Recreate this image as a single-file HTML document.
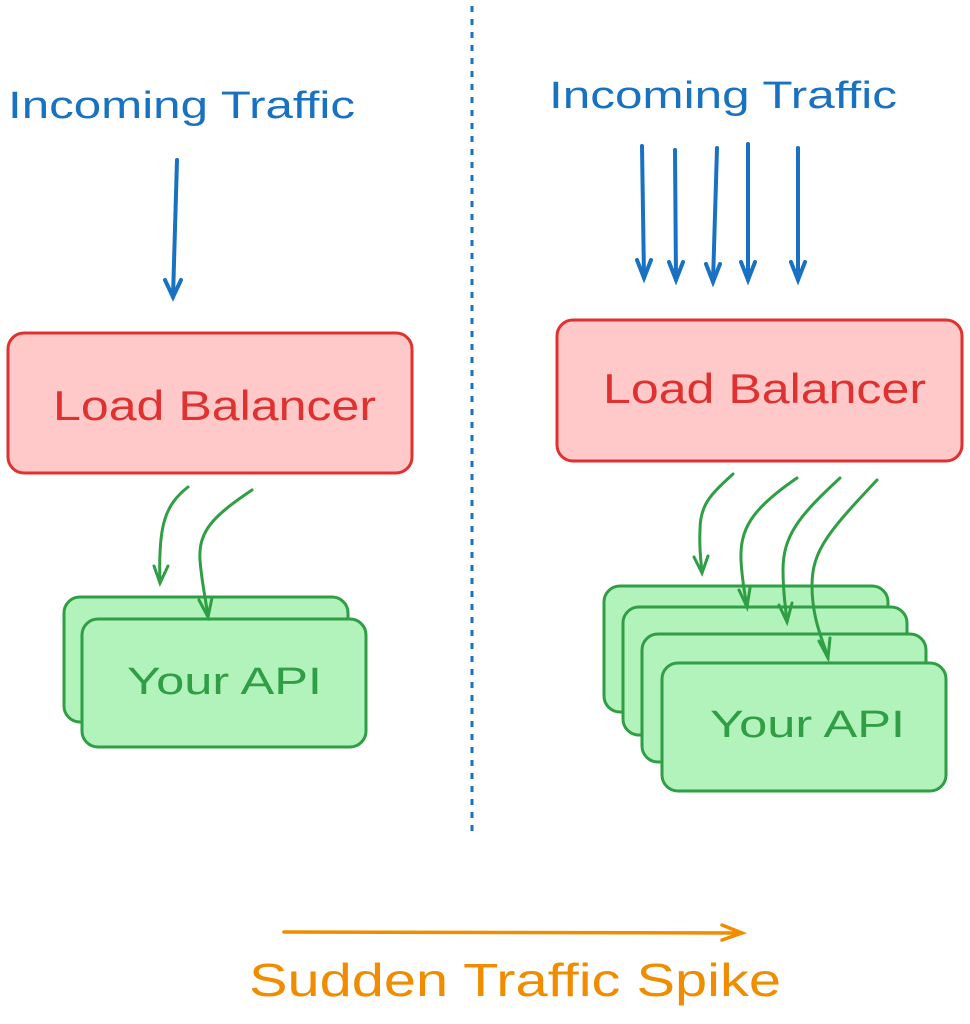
<!DOCTYPE html>
<html><head><meta charset="utf-8"><style>html,body{margin:0;padding:0;background:#fff;}svg{display:block}</style></head>
<body>
<svg width="970" height="1024" viewBox="0 0 970 1024" xmlns="http://www.w3.org/2000/svg" font-family="'Comic Sans MS','Liberation Sans',sans-serif">
<defs>
<marker id="ab" markerWidth="10" markerHeight="10" refX="5" refY="9" orient="auto" markerUnits="userSpaceOnUse"></marker>
</defs>
<!-- divider -->
<line x1="472" y1="6" x2="472" y2="835" stroke="#1971c2" stroke-width="3" stroke-dasharray="6,7"/>

<!-- LEFT -->
<text x="8" y="118" font-size="38" fill="#1971c2" textLength="347" lengthAdjust="spacingAndGlyphs">Incoming Traffic</text>
<g stroke="#1971c2" stroke-width="4" fill="none" stroke-linecap="round">
<path d="M177 160 L173 297"/><path d="M165 280 L173 297 L181 280"/>
</g>
<rect x="8" y="333" width="404" height="140" rx="16" fill="#ffc9c9" stroke="#e03131" stroke-width="3"/>
<text x="53" y="420" font-size="42" fill="#e03131" textLength="323" lengthAdjust="spacingAndGlyphs">Load Balancer</text>

<rect x="64" y="597" width="284" height="125" rx="16" fill="#b2f2bb" stroke="#2f9e44" stroke-width="3"/>
<rect x="82" y="619" width="284" height="128" rx="16" fill="#b2f2bb" stroke="#2f9e44" stroke-width="3"/>
<text x="127" y="694" font-size="38" fill="#2f9e44" textLength="195" lengthAdjust="spacingAndGlyphs">Your API</text>
<g stroke="#2f9e44" stroke-width="3" fill="none" stroke-linecap="round">
<path d="M188 487 C165 505 158 525 160 583"/><path d="M154 566 L160 583 L168 566"/>
<path d="M252 490 C215 515 198 530 200 560 C202 585 206 600 208 617"/><path d="M199 600 L208 617 L212 598"/>
</g>

<!-- RIGHT -->
<text x="549" y="108" font-size="38" fill="#1971c2" textLength="348" lengthAdjust="spacingAndGlyphs">Incoming Traffic</text>
<g stroke="#1971c2" stroke-width="4" fill="none" stroke-linecap="round">
<path d="M642 146 L644 278"/><path d="M637 260 L644 278 L651 260"/>
<path d="M675 150 L676 280"/><path d="M669 262 L676 280 L683 262"/>
<path d="M717 148 L713 282"/><path d="M706 264 L713 282 L720 264"/>
<path d="M748 144 L748 280"/><path d="M741 262 L748 280 L755 262"/>
<path d="M798 148 L798 280"/><path d="M791 262 L798 280 L805 262"/>
</g>
<rect x="557" y="320" width="405" height="141" rx="16" fill="#ffc9c9" stroke="#e03131" stroke-width="3"/>
<text x="603" y="403" font-size="42" fill="#e03131" textLength="323" lengthAdjust="spacingAndGlyphs">Load Balancer</text>

<rect x="604" y="586" width="284" height="126" rx="16" fill="#b2f2bb" stroke="#2f9e44" stroke-width="3"/>
<rect x="623" y="607" width="284" height="128" rx="16" fill="#b2f2bb" stroke="#2f9e44" stroke-width="3"/>
<rect x="642" y="634" width="284" height="128" rx="16" fill="#b2f2bb" stroke="#2f9e44" stroke-width="3"/>
<rect x="662" y="663" width="284" height="128" rx="16" fill="#b2f2bb" stroke="#2f9e44" stroke-width="3"/>
<text x="710" y="737" font-size="38" fill="#2f9e44" textLength="195" lengthAdjust="spacingAndGlyphs">Your API</text>
<g stroke="#2f9e44" stroke-width="3" fill="none" stroke-linecap="round">
<path d="M733 474 C710 495 700 505 700 530 C699 550 701 560 702 573"/><path d="M694 557 L702 573 L708 556"/>
<path d="M797 478 C750 510 740 530 741 560 C742 580 745 595 747 607"/><path d="M739 590 L747 607 L750 588"/>
<path d="M840 478 C800 515 783 535 783 570 C783 595 786 610 787 622"/><path d="M779 605 L787 622 L792 603"/>
<path d="M877 480 C830 530 812 550 812 585 C812 620 823 640 828 658"/><path d="M819 641 L828 658 L830 638"/>
</g>

<!-- bottom -->
<g stroke="#f08c00" stroke-width="3.5" fill="none" stroke-linecap="round">
<path d="M284 932 L742 933"/><path d="M722 925 L742 933 L722 940"/>
</g>
<text x="249" y="996" font-size="46" fill="#f08c00" textLength="532" lengthAdjust="spacingAndGlyphs">Sudden Traffic Spike</text>
</svg>
</body></html>
